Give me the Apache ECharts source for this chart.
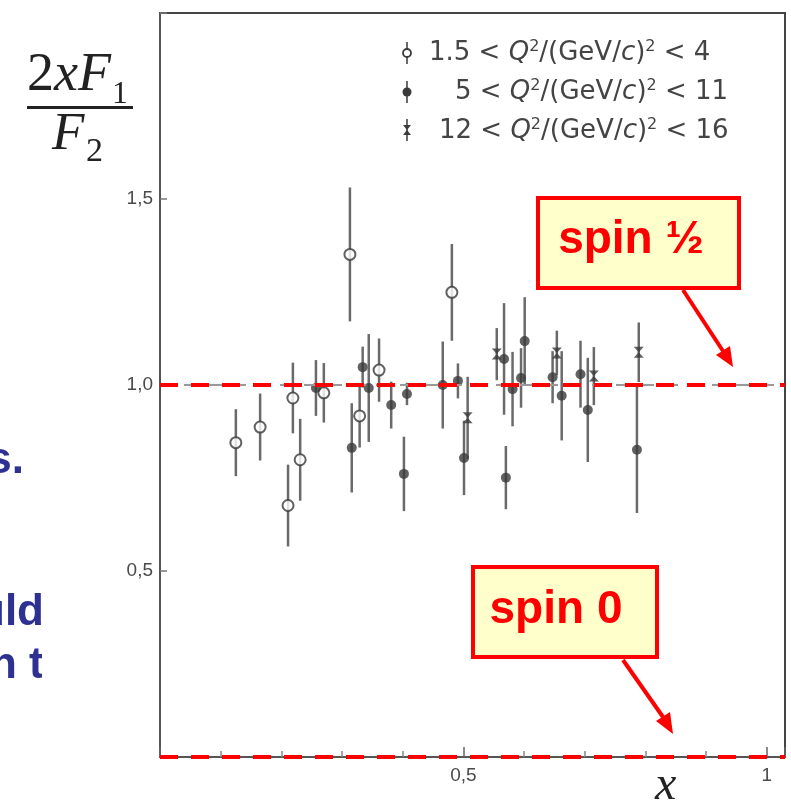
<!DOCTYPE html>
<html>
<head>
<meta charset="utf-8">
<script src="https://cdn.jsdelivr.net/npm/echarts@6/dist/echarts.min.js"></script>
<style>
  html, body { margin: 0; padding: 0; background: #fff; }
  #chart { width: 791px; height: 808px; }
</style>
</head>
<body>
<div id="chart"></div>
<script>
// 1.5 < Q²/(GeV/c)² < 4  (open circles)
var lowX   = [0.125, 0.165, 0.211, 0.219, 0.231, 0.270, 0.313, 0.329, 0.361, 0.481];
var lowY   = [0.845, 0.887, 0.676, 0.965, 0.799, 0.979, 1.351, 0.917, 1.040, 1.249];
var lowErr = [0.09, 0.09, 0.11, 0.095, 0.11, 0.08, 0.18, 0.085, 0.085, 0.13];

// 5 < Q²/(GeV/c)² < 11  (filled circles)
var midX   = [0.257, 0.316, 0.334, 0.344, 0.381, 0.402, 0.407, 0.466, 0.491, 0.501,
              0.567, 0.570, 0.581, 0.595, 0.601, 0.647, 0.662, 0.693, 0.705, 0.786];
var midY   = [0.992, 0.831, 1.048, 0.992, 0.946, 0.761, 0.976, 1.000, 1.011, 0.804,
              1.070, 0.751, 0.989, 1.019, 1.118, 1.021, 0.971, 1.029, 0.933, 0.826];
var midErr = [0.075, 0.12, 0.055, 0.145, 0.063, 0.10, 0.03, 0.117, 0.047, 0.10,
              0.15, 0.085, 0.10, 0.08, 0.118, 0.07, 0.12, 0.09, 0.14, 0.17];

// 12 < Q²/(GeV/c)² < 16  (crosses)
var highX   = [0.507, 0.555, 0.654, 0.715, 0.789];
var highY   = [0.912, 1.083, 1.086, 1.024, 1.088];
var highErr = [0.11, 0.07, 0.06, 0.078, 0.08];

var yTicks = [0.5, 1, 1.5];
var yTickLabels = ['0,5', '1,0', '1,5'];
var xTicks = [0.5, 1];
var xTickLabels = ['0,5', '1'];

var spinLines = [1.0, 0.0];   // spin 1/2 and spin 0 expectations

var ink = '#3a3a3a';
var barColor = '#6a6a6a';
var hourglass = 'path://M0,0L10,0L0,12L10,12Z';

function points(xs, ys) {
  return xs.map(function (x, i) { return [x, ys[i]]; });
}
function bars(xs, ys, es) {
  return xs.map(function (x, i) { return [x, ys[i] - es[i], ys[i] + es[i]]; });
}
function errorSeries(data) {
  return {
    type: 'custom',
    data: data,
    z: 3,
    renderItem: function (params, api) {
      var lo = api.coord([api.value(0), api.value(1)]);
      var hi = api.coord([api.value(0), api.value(2)]);
      return {
        type: 'line',
        shape: { x1: lo[0], y1: lo[1], x2: hi[0], y2: hi[1] },
        style: { stroke: barColor, lineWidth: 2.5 }
      };
    }
  };
}
function fmt(ticks, labels) {
  return function (v) {
    for (var i = 0; i < ticks.length; i++) {
      if (Math.abs(v - ticks[i]) < 1e-6) return labels[i];
    }
    return '';
  };
}

var chart = echarts.init(document.getElementById('chart'));

var blue = '#2e3192';
var blueFont = 'bold 44px "Liberation Sans", Arial, sans-serif';
var legFont = '"DejaVu Sans", sans-serif';

function legendRich(pre, post) {
  return {
    text: '{n|' + pre + '}{i|Q}{s|2}{n|/(GeV/}{i|c}{n|)}{s|2}{n| < ' + post + '}',
    rich: {
      n: { fontSize: 26, lineHeight: 28, fontFamily: legFont, fill: '#444' },
      i: { fontSize: 26, lineHeight: 28, fontFamily: legFont, fontStyle: 'italic', fill: '#444' },
      s: { fontSize: 16, lineHeight: 28, fontFamily: legFont, fill: '#444', verticalAlign: 'top' }
    },
    verticalAlign: 'middle'
  };
}

chart.setOption({
  backgroundColor: '#fff',
  animation: false,
  grid: {
    left: 160, right: 6, top: 13, bottom: 51,
    show: true, borderColor: '#444', borderWidth: 2
  },
  xAxis: {
    type: 'value', min: 0, max: 1.03, interval: 0.5,
    splitLine: { show: false },
    axisLine: { lineStyle: { color: '#555', width: 2 } },
    axisTick: { inside: true, length: 10, lineStyle: { color: '#666', width: 1.5 } },
    minorTick: { show: true, splitNumber: 5, length: 6, lineStyle: { color: '#888', width: 1.5 } },
    axisLabel: {
      color: '#4a4a4a', fontSize: 19, margin: 9,
      fontFamily: '"Liberation Sans", Arial, sans-serif',
      formatter: fmt(xTicks, xTickLabels)
    }
  },
  yAxis: {
    type: 'value', min: 0, max: 2, interval: 0.5,
    splitLine: { show: false },
    axisLine: { lineStyle: { color: '#555', width: 2 } },
    axisTick: { inside: true, length: 7, lineStyle: { color: '#777', width: 1.5 } },
    axisLabel: {
      color: '#4a4a4a', fontSize: 19, margin: 7,
      fontFamily: '"Liberation Sans", Arial, sans-serif',
      formatter: fmt(yTicks, yTickLabels)
    }
  },
  series: [
    errorSeries(bars(lowX, lowY, lowErr)),
    errorSeries(bars(midX, midY, midErr)),
    errorSeries(bars(highX, highY, highErr)),
    {
      type: 'scatter', z: 4,
      data: points(lowX, lowY),
      symbol: 'circle', symbolSize: 11,
      itemStyle: { color: '#fff', borderColor: ink, borderWidth: 2 }
    },
    {
      type: 'scatter', z: 4,
      data: points(midX, midY),
      symbol: 'circle', symbolSize: 10,
      itemStyle: { color: ink }
    },
    {
      type: 'scatter', z: 4,
      data: points(highX, highY),
      symbol: hourglass, symbolSize: [10, 11],
      itemStyle: { color: ink }
    },
    {
      // original faint gray dashed line at 1 under the red one
      type: 'line', data: [], z: 2,
      markLine: {
        silent: true, symbol: 'none', label: { show: false },
        lineStyle: { color: '#999', width: 2, type: [14, 10] },
        data: [{ yAxis: 1 }]
      }
    },
    {
      type: 'line', data: [], z: 6,
      markLine: {
        silent: true, symbol: 'none', label: { show: false },
        lineStyle: { color: '#ff0000', width: 4, type: [18, 13] },
        data: spinLines.map(function (v) { return { yAxis: v }; })
      }
    }
  ],
  graphic: [
    // slide text peeking out from the left
    { type: 'text', x: 24, y: 461, z: 0,
      style: { text: 'ons.', font: blueFont, fill: blue, align: 'right', verticalAlign: 'middle' } },
    { type: 'text', x: 44, y: 613, z: 0,
      style: { text: 'ould', font: blueFont, fill: blue, align: 'right', verticalAlign: 'middle' } },
    { type: 'text', x: -10, y: 666, z: 0,
      style: { text: 'n to', font: blueFont, fill: blue, align: 'left', verticalAlign: 'middle' } },
    { type: 'rect', shape: { x: 42, y: 400, width: 60, height: 320 }, z: 1,
      style: { fill: '#fff' } },

    // y axis title 2xF1 / F2
    { type: 'text', x: 27, y: 76, z: 5,
      style: {
        text: '{r|2}{i|xF}',
        rich: {
          r: { fontSize: 54, fontFamily: '"Liberation Serif", "Times New Roman", serif', fill: '#222' },
          i: { fontSize: 54, fontFamily: '"Liberation Serif", "Times New Roman", serif', fontStyle: 'italic', fill: '#222' }
        },
        verticalAlign: 'middle'
      } },
    { type: 'text', x: 112, y: 95, z: 5,
      style: { text: '1', font: '32px "Liberation Serif", serif', fill: '#222', verticalAlign: 'middle' } },
    { type: 'rect', shape: { x: 27, y: 106, width: 106, height: 3 }, z: 5, style: { fill: '#222' } },
    { type: 'text', x: 52, y: 135, z: 5,
      style: { text: 'F', font: 'italic 53px "Liberation Serif", serif', fill: '#222', verticalAlign: 'middle' } },
    { type: 'text', x: 86, y: 152, z: 5,
      style: { text: '2', font: '34px "Liberation Serif", serif', fill: '#222', verticalAlign: 'middle' } },

    // x axis title
    { type: 'text', x: 655, y: 786, z: 5,
      style: { text: 'x', font: 'italic 48px "Liberation Serif", serif', fill: '#222', verticalAlign: 'middle' } },

    // legend
    { type: 'line', shape: { x1: 407, y1: 42, x2: 407, y2: 64 }, z: 5, style: { stroke: barColor, lineWidth: 2 } },
    { type: 'circle', shape: { cx: 407, cy: 53, r: 4 }, z: 5, style: { fill: '#fff', stroke: ink, lineWidth: 1.8 } },
    { type: 'line', shape: { x1: 407, y1: 81, x2: 407, y2: 103 }, z: 5, style: { stroke: barColor, lineWidth: 2 } },
    { type: 'circle', shape: { cx: 407, cy: 92, r: 4.5 }, z: 5, style: { fill: ink } },
    { type: 'line', shape: { x1: 407, y1: 119, x2: 407, y2: 141 }, z: 5, style: { stroke: barColor, lineWidth: 2 } },
    { type: 'polygon', shape: { points: [[403, 125], [411, 125], [403, 135], [411, 135]] }, z: 5, style: { fill: ink } },
    { type: 'text', x: 429, y: 53, z: 5, style: legendRich('1.5 < ', '4') },
    { type: 'text', x: 455, y: 92, z: 5, style: legendRich('5 < ', '11') },
    { type: 'text', x: 439, y: 131, z: 5, style: legendRich('12 < ', '16') },

    // spin 1/2 box and arrow
    { type: 'rect', shape: { x: 538, y: 198, width: 201, height: 90 }, z: 7,
      style: { fill: '#ffffcc', stroke: '#ff0000', lineWidth: 4 } },
    { type: 'text', x: 631, y: 240, z: 8,
      style: { text: 'spin ½', font: 'bold 46px "Liberation Sans", Arial, sans-serif', fill: '#ff0000', align: 'center', verticalAlign: 'middle' } },
    { type: 'line', shape: { x1: 683, y1: 290, x2: 723, y2: 351 }, z: 7, style: { stroke: '#ff0000', lineWidth: 4 } },
    { type: 'polygon', shape: { points: [[733, 367], [716, 355], [730, 346]] }, z: 7, style: { fill: '#ff0000' } },

    // spin 0 box and arrow
    { type: 'rect', shape: { x: 473, y: 567, width: 184, height: 90 }, z: 7,
      style: { fill: '#ffffcc', stroke: '#ff0000', lineWidth: 4 } },
    { type: 'text', x: 556, y: 610, z: 8,
      style: { text: 'spin 0', font: 'bold 46px "Liberation Sans", Arial, sans-serif', fill: '#ff0000', align: 'center', verticalAlign: 'middle' } },
    { type: 'line', shape: { x1: 623, y1: 660, x2: 663, y2: 717 }, z: 7, style: { stroke: '#ff0000', lineWidth: 4 } },
    { type: 'polygon', shape: { points: [[673, 734], [656, 721], [670, 712]] }, z: 7, style: { fill: '#ff0000' } }
  ]
});
</script>
</body>
</html>
